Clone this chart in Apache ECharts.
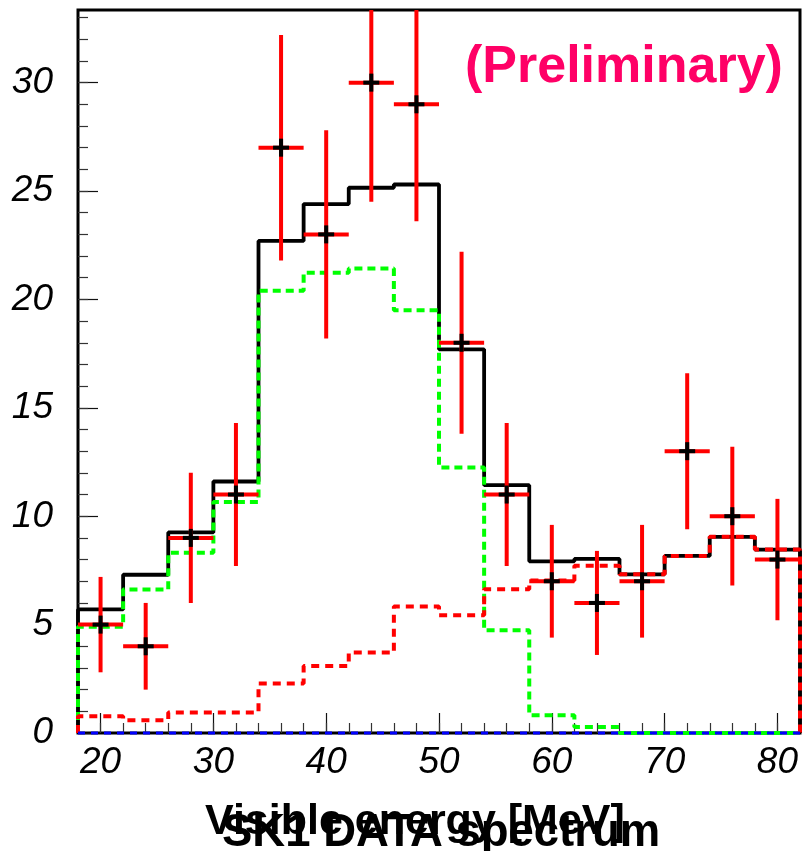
<!DOCTYPE html>
<html>
<head>
<meta charset="utf-8">
<script src="https://cdn.jsdelivr.net/npm/echarts@6/dist/echarts.min.js"></script>
<style>
  html, body { margin: 0; padding: 0; background: #fff; }
  #chart { width: 802px; height: 851px; }
</style>
</head>
<body>
<div id="chart"></div>
<script>
// Bin edges in visible energy [MeV] (16 bins, 4 MeV wide)
const binEdges = [18, 22, 26, 30, 34, 38, 42, 46, 50, 54, 58, 62, 66, 70, 74, 78, 82];

// Observed counts per bin and their errors
const dataCounts = [5, 4, 9, 11, 27, 23, 30, 29, 18, 11, 7, 6, 7, 13, 10, 8];
const dataErrors = [2.2, 2.0, 3.0, 3.3, 5.2, 4.8, 5.5, 5.4, 4.2, 3.3, 2.6, 2.4, 2.6, 3.6, 3.2, 2.8];

// Expected spectra per bin
const totalExpected = [5.7, 7.3, 9.25, 11.6, 22.7, 24.4, 25.15, 25.3, 17.7, 11.43, 7.92, 8.03, 7.32, 8.17, 9.05, 8.46];
const signalExpected = [4.9, 6.62, 8.31, 10.66, 20.4, 21.23, 21.43, 19.5, 12.25, 4.74, 0.82, 0.28, 0, 0, 0, 0];
const backgroundExpected = [0.77, 0.59, 0.94, 0.94, 2.28, 3.09, 3.71, 5.83, 5.43, 6.63, 7.03, 7.71, 7.32, 8.17, 9.05, 8.46];
const flatComponent = [0, 0, 0, 0, 0, 0, 0, 0, 0, 0, 0, 0, 0, 0, 0, 0];

// Axis ticks and labels
const xTickLabels = [20, 30, 40, 50, 60, 70, 80];
const yTickLabels = [0, 5, 10, 15, 20, 25, 30];
const xRange = [18, 82];
const yRange = [0, 33.35];

const xMinorTicks = [];
for (let v = 20; v <= 80; v += 2) xMinorTicks.push(v);
const yMinorTicks = [];
for (let v = 1; v <= 33; v += 1) yMinorTicks.push(v);

// Turn per-bin contents into a closed step outline
function histOutline(values) {
  const pts = [[binEdges[0], 0]];
  for (let i = 0; i < values.length; i++) pts.push([binEdges[i], values[i]]);
  pts.push([binEdges[binEdges.length - 1], values[values.length - 1]]);
  pts.push([binEdges[binEdges.length - 1], 0]);
  return pts;
}

const pointData = dataCounts.map((c, i) => [
  (binEdges[i] + binEdges[i + 1]) / 2, c, dataErrors[i], binEdges[i], binEdges[i + 1]
]);

const FONT = "'Liberation Sans', Arial, Helvetica, sans-serif";

function stepSeries(name, values, color, width, dash, z) {
  return {
    name, type: 'line', step: 'end', data: histOutline(values),
    symbol: 'none', silent: true, z,
    lineStyle: { color, width, type: dash || 'solid' },
    clip: false
  };
}

const option = {
  animation: false,
  backgroundColor: '#fff',
  grid: {
    left: 78, right: 2, top: 10, bottom: 118,
    show: true, borderColor: '#000', borderWidth: 3, backgroundColor: 'transparent'
  },
  xAxis: [
    {
      type: 'value', min: xRange[0], max: xRange[1],
      axisLine: { show: false }, splitLine: { show: false },
      axisTick: { inside: true, length: 20, customValues: xTickLabels, lineStyle: { color: '#111', width: 1.2 } },
      axisLabel: { customValues: xTickLabels, fontSize: 37, fontStyle: 'italic', color: '#000', fontFamily: FONT, margin: 11 }
    },
    {
      type: 'value', min: xRange[0], max: xRange[1], position: 'bottom',
      axisLine: { show: false }, splitLine: { show: false }, axisLabel: { show: false },
      axisTick: { inside: true, length: 10, customValues: xMinorTicks, lineStyle: { color: '#333', width: 1.2 } }
    }
  ],
  yAxis: [
    {
      type: 'value', min: yRange[0], max: yRange[1],
      axisLine: { show: false }, splitLine: { show: false },
      axisTick: { inside: true, length: 20, customValues: yTickLabels, lineStyle: { color: '#111', width: 1.2 } },
      axisLabel: { customValues: yTickLabels, fontSize: 37, fontStyle: 'italic', color: '#000', fontFamily: FONT, margin: 25 }
    },
    {
      type: 'value', min: yRange[0], max: yRange[1], position: 'left',
      axisLine: { show: false }, splitLine: { show: false }, axisLabel: { show: false },
      axisTick: { inside: true, length: 10, customValues: yMinorTicks, lineStyle: { color: '#333', width: 1.2 } }
    }
  ],
  series: [
    stepSeries('Total', totalExpected, '#000', 3.8, null, 2),
    stepSeries('Signal', signalExpected, '#00ff00', 4, [8, 5], 3),
    stepSeries('Background', backgroundExpected, '#ff0000', 4, [8, 6], 4),
    stepSeries('Flat', flatComponent, '#0000ff', 3, [7, 6], 5),
    {
      name: 'Data', type: 'custom', data: pointData, z: 10, clip: true,
      renderItem(params, api) {
        const x = api.value(0), y = api.value(1), e = api.value(2);
        const lo = api.value(3), hi = api.value(4);
        const c = api.coord([x, y]);
        const l = api.coord([lo, y]), r = api.coord([hi, y]);
        const t = api.coord([x, y + e]), b = api.coord([x, y - e]);
        const red = { stroke: '#ff0000', lineWidth: 4, fill: null };
        const blk = { stroke: '#000', lineWidth: 4, fill: null };
        return {
          type: 'group',
          children: [
            { type: 'line', shape: { x1: l[0], y1: l[1], x2: r[0], y2: r[1] }, style: red },
            { type: 'line', shape: { x1: t[0], y1: t[1], x2: b[0], y2: b[1] }, style: red },
            { type: 'line', shape: { x1: c[0] - 8, y1: c[1], x2: c[0] + 8, y2: c[1] }, style: blk },
            { type: 'line', shape: { x1: c[0], y1: c[1] - 9, x2: c[0], y2: c[1] + 9 }, style: blk }
          ]
        };
      }
    }
  ],
  graphic: [
    {
      type: 'text', left: 465, top: 42, z: 20,
      style: { text: '(Preliminary)', fill: '#ff0066', font: "bold 52px " + FONT }
    },
    {
      type: 'text', left: 205, top: 801, z: 20,
      style: { text: 'Visible energy [MeV]', fill: '#000', font: "bold 43px " + FONT }
    },
    {
      type: 'text', left: 222, top: 810, z: 21,
      style: { text: 'SK1 DATA spectrum', fill: '#000', font: "bold 45.5px " + FONT }
    }
  ]
};

const chart = echarts.init(document.getElementById('chart'), null, { renderer: 'canvas' });
chart.setOption(option);
</script>
</body>
</html>
